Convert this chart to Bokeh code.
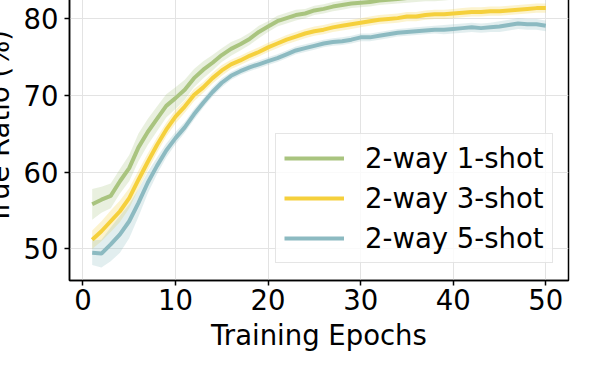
from bokeh.plotting import figure
from bokeh.models import Range1d, Legend, LegendItem, FixedTicker
from bokeh.embed import file_html
from bokeh.resources import INLINE

epochs = list(range(1, 51))

one_shot = [55.8, 56.4, 56.9, 58.8, 60.5, 63.2, 65.2, 66.9, 68.6, 69.6,
            70.7, 72.2, 73.3, 74.2, 75.2, 76.0, 76.6, 77.3, 78.2, 78.9,
            79.6, 80.0, 80.4, 80.6, 81.0, 81.2, 81.5, 81.7, 81.9, 82.0,
            82.1, 82.3, 82.4, 82.5, 82.6, 82.7, 82.8, 82.8, 82.9, 83.0,
            83.0, 83.1, 83.1, 83.2, 83.2, 83.2, 83.3, 83.3, 83.3, 83.4]
one_shot_std = [2.0, 1.7, 1.6, 1.6, 1.7, 1.8, 1.7, 1.6, 1.5, 1.4,
                1.3, 1.2, 1.1, 1.0, 0.9, 0.9, 0.8, 0.8, 0.8, 0.7,
                0.7, 0.7, 0.7, 0.6, 0.6, 0.6, 0.6, 0.6, 0.6, 0.6,
                0.6, 0.6, 0.6, 0.6, 0.6, 0.6, 0.6, 0.6, 0.6, 0.6,
                0.6, 0.6, 0.6, 0.6, 0.6, 0.6, 0.6, 0.6, 0.6, 0.6]

three_shot = [51.2, 52.3, 53.6, 54.9, 56.6, 59.0, 61.3, 63.5, 65.5, 67.2,
              68.5, 70.0, 71.0, 72.2, 73.2, 74.0, 74.5, 75.1, 75.6, 76.2,
              76.7, 77.2, 77.6, 78.0, 78.3, 78.5, 78.8, 79.0, 79.2, 79.4,
              79.6, 79.8, 79.9, 80.0, 80.2, 80.2, 80.4, 80.5, 80.5, 80.6,
              80.7, 80.8, 80.8, 80.9, 80.9, 81.0, 81.1, 81.2, 81.3, 81.3]
three_shot_std = [1.2, 1.3, 1.4, 1.4, 1.3, 1.2, 1.1, 1.0, 0.9, 0.9,
                  0.8, 0.8, 0.7, 0.7, 0.7, 0.6, 0.6, 0.6, 0.6, 0.6,
                  0.6, 0.6, 0.6, 0.6, 0.6, 0.6, 0.6, 0.6, 0.6, 0.6,
                  0.6, 0.6, 0.6, 0.6, 0.6, 0.6, 0.6, 0.6, 0.6, 0.6,
                  0.6, 0.6, 0.6, 0.6, 0.6, 0.6, 0.6, 0.6, 0.6, 0.6]

five_shot = [49.5, 49.4, 50.6, 51.9, 53.6, 56.0, 58.6, 60.8, 62.8, 64.4,
             65.8, 67.5, 69.0, 70.4, 71.6, 72.5, 73.1, 73.6, 74.0, 74.4,
             74.8, 75.3, 75.8, 76.1, 76.4, 76.7, 76.9, 77.0, 77.2, 77.5,
             77.5, 77.7, 77.9, 78.1, 78.2, 78.3, 78.4, 78.5, 78.5, 78.6,
             78.7, 78.8, 78.7, 78.8, 78.9, 79.1, 79.3, 79.2, 79.2, 79.0]
five_shot_std = [1.6, 1.8, 2.2, 2.4, 2.2, 1.8, 1.4, 1.1, 0.9, 0.8,
                 0.7, 0.7, 0.6, 0.6, 0.6, 0.5, 0.5, 0.5, 0.5, 0.5,
                 0.5, 0.5, 0.5, 0.5, 0.5, 0.5, 0.5, 0.5, 0.5, 0.5,
                 0.5, 0.5, 0.5, 0.5, 0.5, 0.5, 0.5, 0.5, 0.6, 0.6,
                 0.6, 0.6, 0.6, 0.6, 0.7, 0.7, 0.7, 0.7, 0.7, 0.7]

labels = ["2-way 1-shot", "2-way 3-shot", "2-way 5-shot"]
colors = ["#a9c47f", "#f5d03c", "#8cbac1"]
x_ticks = [0, 10, 20, 30, 40, 50]
y_ticks = [50, 60, 70, 80]

FONT = "DejaVu Sans"
FS = "27.5px"

p = figure(frame_width=499, frame_height=307,
           output_backend="svg", toolbar_location=None,
           x_range=Range1d(-1.45, 52.45), y_range=Range1d(45.9, 85.8),
           min_border_left=0, min_border_right=12, min_border_top=0, min_border_bottom=0)
p.styles = {"margin-left": "-21px", "margin-top": "-27px"}

p.background_fill_color = "white"
p.border_fill_color = "white"
p.outline_line_color = "black"
p.outline_line_width = 1.5

for ax in (p.xaxis[0], p.yaxis[0]):
    ax.axis_line_color = "black"
    ax.axis_line_width = 1.5
    ax.major_tick_line_color = "black"
    ax.major_tick_line_width = 1.5
    ax.major_tick_in = 0
    ax.major_tick_out = 5
    ax.minor_tick_in = 0
    ax.minor_tick_out = 0
    ax.major_label_text_font = FONT
    ax.major_label_text_font_size = FS
    ax.major_label_text_color = "black"
    ax.axis_label_text_font = FONT
    ax.axis_label_text_font_size = FS
    ax.axis_label_text_font_style = "normal"
    ax.axis_label_text_color = "black"
    ax.axis_label_standoff = 6

p.xaxis.major_label_standoff = 3
p.yaxis.major_label_standoff = 6

p.xaxis.ticker = FixedTicker(ticks=x_ticks)
p.yaxis.ticker = FixedTicker(ticks=y_ticks)
p.xaxis.axis_label = "Training Epochs"
p.yaxis.axis_label = "True Ratio (%)"

p.xgrid.ticker = FixedTicker(ticks=x_ticks)
p.ygrid.ticker = FixedTicker(ticks=y_ticks)
p.grid.grid_line_color = "#e3e3e3"
p.grid.grid_line_width = 1

series = [(one_shot, one_shot_std), (three_shot, three_shot_std), (five_shot, five_shot_std)]
items = []
for (vals, std), lab, col in zip(series, labels, colors):
    lower = [v - s for v, s in zip(vals, std)]
    upper = [v + s for v, s in zip(vals, std)]
    p.varea(x=epochs, y1=lower, y2=upper, fill_color=col, fill_alpha=0.25)
    r = p.line(x=epochs, y=vals, line_color=col, line_width=4)
    items.append(LegendItem(label=lab, renderers=[r]))

legend = Legend(items=items, location=(206, 17),
                label_text_font=FONT, label_text_font_size=FS,
                label_text_color="black",
                glyph_width=60, glyph_height=32, label_standoff=21,
                label_height=32,
                spacing=8, padding=8, margin=0,
                border_line_color="#cccccc", border_line_width=1.5,
                background_fill_color="white", background_fill_alpha=0.8)
p.add_layout(legend)

open("out.html", "w").write(file_html(p, INLINE))
